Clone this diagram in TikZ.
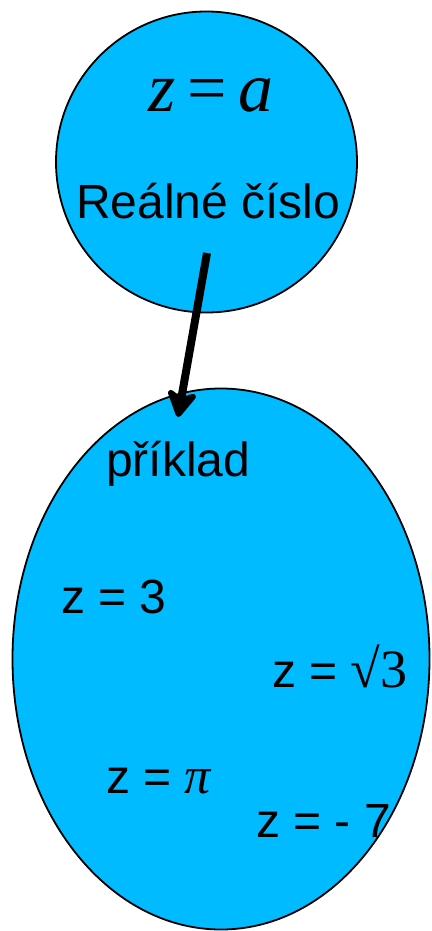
\documentclass[tikz,border=0pt]{standalone}
\usepackage{fontspec}
\setmainfont{Liberation Sans}
\newfontfamily\serifnum{Liberation Serif}
\usetikzlibrary{arrows.meta,shapes.geometric}
\definecolor{skyfill}{RGB}{0,187,255}
\tikzset{
  blob/.style={draw=black,line width=1.8pt,fill=skyfill,inner sep=0pt},
  lbl/.style={anchor=base west,inner sep=0pt,font=\fontsize{48}{52}\selectfont},
}
\begin{document}
\begin{tikzpicture}[x=1pt,y=1pt,>={Stealth[length=32pt,width=36pt,inset=9pt,round]}]
	  \useasboundingbox (0,0) rectangle (431,-931);
	  \node[blob,circle,minimum size=301pt] (real) at (206.5,-162) {};
	  \node[blob,ellipse,minimum width=417pt,minimum height=541pt] (ex) at (221,-659) {};
	  \node[lbl,font=\fontsize{70}{74}\selectfont\serifnum] (eq) at (148,-112)
	    {\textit{z}\hspace{12pt}=\hspace{12pt}\textit{a}};
	  \node[lbl] (name) at (76,-218) {Reálné číslo};
	  \node[lbl] (head) at (106,-476) {příklad};
	  \node[lbl] (v1) at (61,-613) {z = 3};
	  \node[lbl] (v2) at (272,-687) {z = {\fontsize{54}{58}\selectfont\serifnum √3}};
	  \node[lbl] (v3) at (106,-793) {z = {\fontsize{52}{56}\selectfont\serifnum\itshape π}};
	  \node[lbl] (v4) at (256,-837) {z = - 7};
	  \coordinate (arrS) at (207,-253);
	  \coordinate (arrE) at (178,-417);
	  \draw[->,line width=8pt] (arrS) -- (arrE);
	\end{tikzpicture}
\end{document}
